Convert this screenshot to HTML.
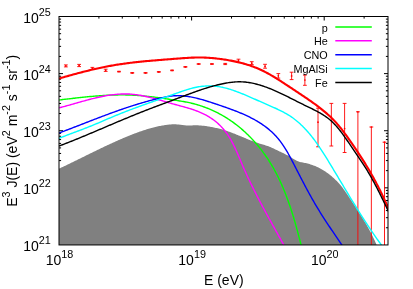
<!DOCTYPE html>
<html><head><meta charset="utf-8"><title>plot</title>
<style>
html,body{margin:0;padding:0;background:#fff;overflow:hidden}
body{width:413px;height:289px;position:relative;font-family:"Liberation Sans",sans-serif}
svg text{font-family:"Liberation Sans",sans-serif;fill:#000}
</style></head><body>
<svg width="413" height="289" viewBox="0 0 413 289" style="position:absolute;left:0;top:0;display:block;will-change:transform">
<rect x="0" y="0" width="413" height="289" fill="#fff"/>
<defs><clipPath id="c"><rect x="59.0" y="16.5" width="329.0" height="228.45"/></clipPath></defs>
<path d="M98.92,244.95 v-2.1 M98.92,16.5 v2.1 M122.27,244.95 v-2.1 M122.27,16.5 v2.1 M138.83,244.95 v-2.1 M138.83,16.5 v2.1 M151.68,244.95 v-2.1 M151.68,16.5 v2.1 M162.18,244.95 v-2.1 M162.18,16.5 v2.1 M171.06,244.95 v-2.1 M171.06,16.5 v2.1 M178.75,244.95 v-2.1 M178.75,16.5 v2.1 M185.53,244.95 v-2.1 M185.53,16.5 v2.1 M191.60,244.95 v-4.0 M191.60,16.5 v4.0 M231.52,244.95 v-2.1 M231.52,16.5 v2.1 M254.87,244.95 v-2.1 M254.87,16.5 v2.1 M271.43,244.95 v-2.1 M271.43,16.5 v2.1 M284.28,244.95 v-2.1 M284.28,16.5 v2.1 M294.78,244.95 v-2.1 M294.78,16.5 v2.1 M303.66,244.95 v-2.1 M303.66,16.5 v2.1 M311.35,244.95 v-2.1 M311.35,16.5 v2.1 M318.13,244.95 v-2.1 M318.13,16.5 v2.1 M324.20,244.95 v-4.0 M324.20,16.5 v4.0 M364.12,244.95 v-2.1 M364.12,16.5 v2.1 M59.0,227.76 h2.1 M388.0,227.76 h-2.1 M59.0,217.70 h2.1 M388.0,217.70 h-2.1 M59.0,210.56 h2.1 M388.0,210.56 h-2.1 M59.0,205.03 h2.1 M388.0,205.03 h-2.1 M59.0,200.51 h2.1 M388.0,200.51 h-2.1 M59.0,196.68 h2.1 M388.0,196.68 h-2.1 M59.0,193.37 h2.1 M388.0,193.37 h-2.1 M59.0,190.45 h2.1 M388.0,190.45 h-2.1 M59.0,187.84 h4.0 M388.0,187.84 h-4.0 M59.0,170.64 h2.1 M388.0,170.64 h-2.1 M59.0,160.59 h2.1 M388.0,160.59 h-2.1 M59.0,153.45 h2.1 M388.0,153.45 h-2.1 M59.0,147.92 h2.1 M388.0,147.92 h-2.1 M59.0,143.40 h2.1 M388.0,143.40 h-2.1 M59.0,139.57 h2.1 M388.0,139.57 h-2.1 M59.0,136.26 h2.1 M388.0,136.26 h-2.1 M59.0,133.34 h2.1 M388.0,133.34 h-2.1 M59.0,130.72 h4.0 M388.0,130.72 h-4.0 M59.0,113.53 h2.1 M388.0,113.53 h-2.1 M59.0,103.48 h2.1 M388.0,103.48 h-2.1 M59.0,96.34 h2.1 M388.0,96.34 h-2.1 M59.0,90.81 h2.1 M388.0,90.81 h-2.1 M59.0,86.28 h2.1 M388.0,86.28 h-2.1 M59.0,82.46 h2.1 M388.0,82.46 h-2.1 M59.0,79.15 h2.1 M388.0,79.15 h-2.1 M59.0,76.23 h2.1 M388.0,76.23 h-2.1 M59.0,73.61 h4.0 M388.0,73.61 h-4.0 M59.0,56.42 h2.1 M388.0,56.42 h-2.1 M59.0,46.36 h2.1 M388.0,46.36 h-2.1 M59.0,39.23 h2.1 M388.0,39.23 h-2.1 M59.0,33.69 h2.1 M388.0,33.69 h-2.1 M59.0,29.17 h2.1 M388.0,29.17 h-2.1 M59.0,25.35 h2.1 M388.0,25.35 h-2.1 M59.0,22.03 h2.1 M388.0,22.03 h-2.1 M59.0,19.11 h2.1 M388.0,19.11 h-2.1" stroke="#000" stroke-width="1" fill="none"/>
<g clip-path="url(#c)">
<path d="M59.17,168.61 L60.07,168.19 L60.96,167.77 L61.86,167.34 L62.75,166.92 L63.65,166.49 L64.54,166.06 L65.44,165.63 L66.33,165.20 L67.23,164.77 L68.12,164.34 L69.01,163.90 L69.91,163.47 L70.80,163.03 L71.70,162.60 L72.59,162.16 L73.49,161.72 L74.38,161.29 L75.28,160.85 L76.17,160.41 L77.07,159.97 L77.96,159.53 L78.86,159.09 L79.75,158.64 L80.65,158.20 L81.55,157.76 L82.44,157.32 L83.34,156.88 L84.24,156.44 L85.13,155.99 L86.03,155.55 L86.93,155.11 L87.83,154.67 L88.73,154.23 L89.63,153.78 L90.53,153.34 L91.42,152.90 L92.32,152.46 L93.23,152.02 L94.13,151.58 L95.03,151.14 L95.93,150.71 L96.83,150.27 L97.74,149.83 L98.64,149.40 L99.54,148.96 L100.45,148.53 L101.35,148.09 L102.26,147.66 L103.17,147.23 L104.07,146.80 L104.98,146.37 L105.89,145.94 L106.80,145.52 L107.71,145.09 L108.62,144.67 L109.53,144.24 L110.44,143.82 L111.35,143.40 L112.26,142.99 L113.18,142.57 L114.09,142.16 L115.01,141.74 L115.93,141.33 L116.84,140.92 L117.76,140.52 L118.68,140.11 L119.60,139.71 L120.52,139.31 L121.44,138.91 L122.36,138.51 L123.29,138.12 L124.21,137.72 L125.14,137.33 L126.06,136.95 L126.99,136.56 L127.92,136.18 L128.85,135.80 L129.78,135.42 L130.71,135.05 L131.64,134.68 L132.58,134.32 L133.51,133.95 L134.45,133.60 L135.38,133.24 L136.32,132.89 L137.26,132.54 L138.20,132.20 L139.14,131.87 L140.09,131.53 L141.03,131.21 L141.98,130.88 L142.92,130.57 L143.87,130.26 L144.82,129.95 L145.77,129.65 L146.72,129.35 L147.68,129.07 L148.63,128.78 L149.59,128.51 L150.54,128.24 L151.50,127.97 L152.46,127.72 L153.42,127.47 L154.39,127.22 L155.35,126.99 L156.32,126.76 L157.28,126.54 L158.25,126.33 L159.22,126.12 L160.20,125.93 L161.17,125.74 L162.14,125.56 L163.12,125.38 L164.10,125.22 L165.08,125.07 L166.06,124.92 L167.04,124.79 L168.03,124.67 L169.02,124.57 L170.00,124.48 L170.99,124.41 L171.99,124.36 L172.98,124.33 L173.97,124.32 L174.97,124.33 L175.97,124.36 L176.97,124.42 L177.97,124.49 L178.97,124.58 L179.98,124.70 L180.98,124.82 L181.99,124.95 L182.99,125.08 L184.00,125.20 L185.01,125.31 L186.01,125.39 L187.02,125.45 L188.03,125.48 L189.04,125.47 L190.05,125.45 L191.06,125.42 L192.06,125.38 L193.07,125.35 L194.08,125.32 L195.08,125.31 L196.09,125.31 L197.09,125.33 L198.09,125.36 L199.10,125.41 L200.10,125.47 L201.10,125.55 L202.09,125.64 L203.09,125.74 L204.08,125.85 L205.07,125.97 L206.06,126.10 L207.05,126.24 L208.04,126.39 L209.02,126.55 L210.00,126.71 L210.98,126.89 L211.96,127.07 L212.93,127.26 L213.90,127.46 L214.87,127.67 L215.84,127.88 L216.80,128.11 L217.77,128.34 L218.73,128.58 L219.69,128.82 L220.65,129.08 L221.60,129.34 L222.56,129.62 L223.51,129.90 L224.46,130.18 L225.41,130.48 L226.36,130.78 L227.31,131.10 L228.25,131.42 L229.20,131.75 L230.14,132.08 L231.08,132.43 L232.02,132.78 L232.96,133.14 L233.90,133.50 L234.84,133.87 L235.78,134.25 L236.72,134.63 L237.65,135.01 L238.59,135.39 L239.52,135.78 L240.46,136.17 L241.39,136.56 L242.32,136.95 L243.26,137.34 L244.19,137.73 L245.12,138.12 L246.05,138.51 L246.99,138.89 L247.92,139.28 L248.85,139.66 L249.78,140.03 L250.72,140.40 L251.65,140.76 L252.58,141.12 L253.51,141.47 L254.45,141.82 L255.38,142.15 L256.32,142.48 L257.25,142.80 L258.19,143.11 L259.12,143.41 L260.06,143.70 L261.00,143.98 L261.94,144.27 L262.87,144.55 L263.81,144.83 L264.75,145.11 L265.69,145.41 L266.62,145.71 L267.56,146.03 L268.49,146.37 L269.42,146.72 L270.36,147.10 L271.28,147.49 L272.21,147.90 L273.14,148.33 L274.06,148.77 L274.98,149.21 L275.90,149.66 L276.81,150.10 L277.73,150.54 L278.64,150.97 L279.54,151.40 L280.44,151.83 L281.34,152.25 L282.23,152.68 L283.12,153.10 L284.01,153.54 L284.89,153.98 L285.77,154.43 L286.64,154.89 L287.51,155.36 L288.38,155.83 L289.25,156.33 L290.12,156.83 L290.99,157.35 L291.86,157.88 L292.74,158.42 L293.62,158.96 L294.50,159.49 L295.39,160.01 L296.29,160.49 L297.20,160.93 L298.11,161.31 L299.04,161.64 L299.97,161.92 L300.91,162.16 L301.86,162.37 L302.81,162.56 L303.77,162.74 L304.73,162.92 L305.69,163.12 L306.65,163.33 L307.62,163.57 L308.58,163.83 L309.55,164.11 L310.51,164.40 L311.46,164.72 L312.42,165.04 L313.36,165.38 L314.30,165.73 L315.24,166.09 L316.16,166.47 L317.08,166.88 L317.99,167.30 L318.88,167.73 L319.77,168.19 L320.65,168.66 L321.53,169.15 L322.39,169.65 L323.25,170.17 L324.09,170.70 L324.93,171.25 L325.77,171.81 L326.59,172.38 L327.41,172.97 L328.22,173.57 L329.02,174.17 L329.82,174.79 L330.61,175.43 L331.38,176.07 L332.15,176.72 L332.91,177.39 L333.67,178.06 L334.41,178.74 L335.14,179.43 L335.86,180.14 L336.57,180.85 L337.27,181.57 L337.95,182.29 L338.63,183.03 L339.29,183.77 L339.95,184.52 L340.59,185.28 L341.21,186.05 L341.83,186.82 L342.43,187.60 L343.03,188.38 L343.61,189.17 L344.19,189.97 L344.76,190.77 L345.33,191.58 L345.89,192.39 L346.45,193.20 L347.00,194.02 L347.56,194.85 L348.11,195.67 L348.67,196.50 L349.22,197.34 L349.78,198.17 L350.33,199.01 L350.89,199.85 L351.44,200.69 L352.00,201.54 L352.55,202.38 L353.11,203.23 L353.66,204.08 L354.21,204.92 L354.76,205.77 L355.31,206.62 L355.86,207.47 L356.41,208.32 L356.95,209.16 L357.49,210.01 L358.03,210.85 L358.57,211.70 L359.11,212.55 L359.64,213.39 L360.18,214.24 L360.70,215.08 L361.23,215.93 L361.75,216.78 L362.28,217.63 L362.79,218.48 L363.31,219.33 L363.82,220.18 L364.33,221.03 L364.84,221.88 L365.34,222.74 L365.84,223.60 L366.34,224.46 L366.83,225.32 L367.32,226.18 L367.81,227.04 L368.29,227.91 L368.77,228.78 L369.24,229.65 L369.71,230.53 L370.18,231.41 L370.64,232.29 L371.10,233.17 L371.55,234.06 L372.00,234.95 L372.44,235.84 L372.88,236.74 L373.32,237.64 L373.75,238.54 L374.17,239.45 L374.59,240.36 L375.01,241.28 L375.42,242.20 L375.82,243.12 L376.22,244.05 L376.61,244.99 L377.00,245.92 L377.38,246.87 L377.54,247.26 L377.54,245.95 L58.0,245.95 L58.0,168.61 Z" fill="#808080" stroke="none"/>
</g>
<g clip-path="url(#c)" fill="none" stroke-linejoin="round" stroke-linecap="butt">
<path d="M65.85,64.90 V66.90 M63.95,64.90 h3.8 M63.95,66.90 h3.8 M79.13,64.40 V66.60 M77.23,64.40 h3.8 M77.23,66.60 h3.8 M92.41,67.40 V69.50 M90.51,67.40 h3.8 M90.51,69.50 h3.8 M105.69,69.20 V71.40 M103.79,69.20 h3.8 M103.79,71.40 h3.8 M118.97,71.30 V71.90 M117.07,71.30 h3.8 M117.07,71.90 h3.8 M132.25,72.60 V73.20 M130.35,72.60 h3.8 M130.35,73.20 h3.8 M145.53,72.60 V73.20 M143.63,72.60 h3.8 M143.63,73.20 h3.8 M158.81,71.60 V72.20 M156.91,71.60 h3.8 M156.91,72.20 h3.8 M172.09,70.10 V70.70 M170.19,70.10 h3.8 M170.19,70.70 h3.8 M185.37,66.60 V67.20 M183.47,66.60 h3.8 M183.47,67.20 h3.8 M198.65,63.70 V64.30 M196.75,63.70 h3.8 M196.75,64.30 h3.8 M211.93,63.70 V64.30 M210.03,63.70 h3.8 M210.03,64.30 h3.8 M225.21,63.40 V64.60 M223.31,63.40 h3.8 M223.31,64.60 h3.8 M238.49,59.20 V62.20 M236.59,59.20 h3.8 M236.59,62.20 h3.8 M251.77,61.70 V64.60 M249.87,61.70 h3.8 M249.87,64.60 h3.8 M265.05,64.30 V68.20 M263.15,64.30 h3.8 M263.15,68.20 h3.8 M278.33,73.60 V78.10 M276.43,73.60 h3.8 M276.43,78.10 h3.8 M291.61,72.20 V79.60 M289.71,72.20 h3.8 M289.71,79.60 h3.8 M304.89,75.10 V85.30 M302.99,75.10 h3.8 M302.99,85.30 h3.8 M318.00,108.20 V146.80 M316.10,108.20 h3.8 M316.10,146.80 h3.8 M331.35,103.40 V146.00 M329.45,103.40 h3.8 M329.45,146.00 h3.8 M344.60,103.40 V152.50 M342.70,103.40 h3.8 M342.70,152.50 h3.8 M357.90,111.80 V246.95 M356.00,111.80 h3.8 M371.35,127.00 V246.95 M369.45,127.00 h3.8 M384.50,142.20 V246.95 M382.60,142.20 h3.8" stroke="#ff0000" stroke-width="0.9"/>
<circle cx="65.85" cy="65.90" r="0.85" fill="#ff0000" stroke="none"/>
<circle cx="79.13" cy="65.50" r="0.85" fill="#ff0000" stroke="none"/>
<circle cx="92.41" cy="68.40" r="0.85" fill="#ff0000" stroke="none"/>
<circle cx="105.69" cy="70.30" r="0.85" fill="#ff0000" stroke="none"/>
<circle cx="118.97" cy="71.60" r="0.85" fill="#ff0000" stroke="none"/>
<circle cx="132.25" cy="72.90" r="0.85" fill="#ff0000" stroke="none"/>
<circle cx="145.53" cy="72.90" r="0.85" fill="#ff0000" stroke="none"/>
<circle cx="158.81" cy="71.90" r="0.85" fill="#ff0000" stroke="none"/>
<circle cx="172.09" cy="70.40" r="0.85" fill="#ff0000" stroke="none"/>
<circle cx="185.37" cy="66.90" r="0.85" fill="#ff0000" stroke="none"/>
<circle cx="198.65" cy="64.00" r="0.85" fill="#ff0000" stroke="none"/>
<circle cx="211.93" cy="64.00" r="0.85" fill="#ff0000" stroke="none"/>
<circle cx="225.21" cy="64.00" r="0.85" fill="#ff0000" stroke="none"/>
<circle cx="238.49" cy="60.70" r="0.85" fill="#ff0000" stroke="none"/>
<circle cx="251.77" cy="63.20" r="0.85" fill="#ff0000" stroke="none"/>
<circle cx="265.05" cy="66.30" r="0.85" fill="#ff0000" stroke="none"/>
<circle cx="278.33" cy="75.80" r="0.85" fill="#ff0000" stroke="none"/>
<circle cx="291.61" cy="75.90" r="0.85" fill="#ff0000" stroke="none"/>
<circle cx="304.89" cy="80.00" r="0.85" fill="#ff0000" stroke="none"/>
<circle cx="318.00" cy="122.20" r="0.85" fill="#ff0000" stroke="none"/>
<circle cx="331.35" cy="117.00" r="0.85" fill="#ff0000" stroke="none"/>
<circle cx="344.60" cy="128.50" r="0.85" fill="#ff0000" stroke="none"/>
<circle cx="357.90" cy="111.80" r="0.85" fill="#ff0000" stroke="none"/>
<circle cx="371.35" cy="127.00" r="0.85" fill="#ff0000" stroke="none"/>
<circle cx="384.50" cy="142.20" r="0.85" fill="#ff0000" stroke="none"/>
<path d="M59.12,78.52 L60.26,78.19 L61.41,77.85 L62.56,77.52 L63.71,77.19 L64.86,76.86 L66.01,76.53 L67.16,76.20 L68.31,75.87 L69.47,75.55 L70.62,75.22 L71.78,74.90 L72.93,74.59 L74.09,74.27 L75.25,73.95 L76.41,73.64 L77.57,73.33 L78.73,73.02 L79.89,72.72 L81.05,72.41 L82.22,72.11 L83.38,71.82 L84.55,71.52 L85.71,71.23 L86.88,70.94 L88.04,70.65 L89.21,70.37 L90.38,70.09 L91.55,69.81 L92.72,69.54 L93.89,69.26 L95.06,69.00 L96.24,68.73 L97.41,68.47 L98.58,68.21 L99.76,67.96 L100.93,67.71 L102.11,67.46 L103.29,67.22 L104.46,66.98 L105.64,66.75 L106.82,66.52 L108.00,66.29 L109.18,66.07 L110.36,65.85 L111.54,65.64 L112.72,65.43 L113.90,65.23 L115.09,65.03 L116.27,64.83 L117.45,64.64 L118.64,64.46 L119.82,64.28 L121.01,64.10 L122.19,63.92 L123.38,63.76 L124.57,63.59 L125.75,63.43 L126.94,63.27 L128.13,63.12 L129.32,62.97 L130.51,62.82 L131.70,62.68 L132.89,62.53 L134.08,62.40 L135.27,62.26 L136.46,62.13 L137.65,62.00 L138.84,61.88 L140.04,61.75 L141.23,61.63 L142.42,61.51 L143.61,61.40 L144.81,61.28 L146.00,61.17 L147.20,61.06 L148.39,60.95 L149.58,60.84 L150.78,60.74 L151.98,60.63 L153.17,60.53 L154.37,60.43 L155.56,60.33 L156.76,60.23 L157.96,60.14 L159.15,60.04 L160.35,59.94 L161.55,59.85 L162.74,59.75 L163.94,59.66 L165.14,59.57 L166.34,59.47 L167.53,59.38 L168.73,59.29 L169.93,59.20 L171.13,59.10 L172.33,59.01 L173.53,58.92 L174.72,58.82 L175.92,58.73 L177.12,58.63 L178.32,58.54 L179.52,58.44 L180.72,58.35 L181.92,58.26 L183.12,58.17 L184.31,58.09 L185.51,58.01 L186.71,57.93 L187.91,57.86 L189.11,57.79 L190.31,57.73 L191.51,57.67 L192.70,57.62 L193.90,57.58 L195.10,57.55 L196.30,57.52 L197.50,57.51 L198.69,57.50 L199.89,57.50 L201.09,57.51 L202.28,57.54 L203.48,57.57 L204.68,57.61 L205.87,57.66 L207.07,57.72 L208.26,57.80 L209.46,57.87 L210.65,57.96 L211.85,58.06 L213.04,58.16 L214.24,58.28 L215.43,58.40 L216.62,58.53 L217.82,58.67 L219.01,58.81 L220.20,58.96 L221.39,59.12 L222.58,59.29 L223.77,59.46 L224.96,59.64 L226.15,59.83 L227.34,60.02 L228.52,60.22 L229.71,60.43 L230.89,60.65 L232.08,60.87 L233.26,61.11 L234.44,61.35 L235.61,61.60 L236.79,61.86 L237.96,62.13 L239.13,62.41 L240.29,62.70 L241.46,62.99 L242.62,63.30 L243.78,63.62 L244.93,63.95 L246.08,64.28 L247.23,64.63 L248.37,64.99 L249.51,65.37 L250.64,65.75 L251.77,66.14 L252.90,66.55 L254.02,66.97 L255.13,67.40 L256.24,67.84 L257.35,68.30 L258.45,68.77 L259.54,69.25 L260.63,69.74 L261.71,70.25 L262.79,70.77 L263.86,71.30 L264.93,71.84 L265.99,72.39 L267.05,72.95 L268.11,73.53 L269.16,74.11 L270.20,74.70 L271.24,75.29 L272.28,75.90 L273.32,76.51 L274.35,77.13 L275.38,77.76 L276.40,78.39 L277.42,79.03 L278.44,79.67 L279.46,80.32 L280.47,80.97 L281.49,81.62 L282.50,82.28 L283.51,82.94 L284.51,83.60 L285.52,84.26 L286.52,84.92 L287.53,85.59 L288.53,86.25 L289.53,86.92 L290.53,87.58 L291.53,88.24 L292.53,88.91 L293.53,89.57 L294.53,90.23 L295.53,90.89 L296.52,91.55 L297.52,92.21 L298.52,92.87 L299.52,93.54 L300.51,94.20 L301.51,94.87 L302.51,95.54 L303.50,96.20 L304.50,96.88 L305.50,97.55 L306.49,98.23 L307.49,98.90 L308.48,99.59 L309.47,100.27 L310.46,100.96 L311.45,101.65 L312.43,102.35 L313.42,103.04 L314.39,103.75 L315.37,104.46 L316.34,105.17 L317.30,105.89 L318.26,106.61 L319.21,107.34 L320.16,108.07 L321.10,108.81 L322.03,109.56 L322.96,110.31 L323.88,111.07 L324.80,111.84 L325.70,112.61 L326.60,113.39 L327.50,114.18 L328.38,114.98 L329.26,115.78 L330.13,116.59 L330.99,117.41 L331.84,118.24 L332.68,119.08 L333.52,119.93 L334.34,120.79 L335.16,121.65 L335.97,122.53 L336.77,123.42 L337.55,124.32 L338.33,125.22 L339.10,126.14 L339.87,127.07 L340.62,128.00 L341.37,128.94 L342.11,129.89 L342.84,130.85 L343.57,131.81 L344.29,132.78 L345.00,133.75 L345.72,134.72 L346.43,135.70 L347.13,136.68 L347.83,137.67 L348.53,138.65 L349.23,139.64 L349.93,140.62 L350.62,141.61 L351.31,142.60 L352.00,143.59 L352.69,144.58 L353.37,145.57 L354.05,146.57 L354.73,147.56 L355.41,148.56 L356.08,149.55 L356.75,150.55 L357.42,151.55 L358.08,152.55 L358.75,153.56 L359.40,154.56 L360.06,155.57 L360.71,156.57 L361.36,157.58 L362.01,158.59 L362.65,159.60 L363.29,160.62 L363.93,161.63 L364.56,162.65 L365.19,163.67 L365.82,164.69 L366.44,165.71 L367.06,166.73 L367.67,167.76 L368.28,168.79 L368.89,169.81 L369.49,170.84 L370.09,171.88 L370.69,172.91 L371.28,173.95 L371.87,174.99 L372.45,176.03 L373.03,177.07 L373.61,178.12 L374.18,179.16 L374.75,180.21 L375.32,181.26 L375.88,182.32 L376.44,183.37 L376.99,184.43 L377.55,185.49 L378.09,186.55 L378.64,187.61 L379.18,188.68 L379.72,189.75 L380.25,190.82 L380.78,191.90 L381.31,192.97 L381.84,194.05 L382.36,195.13 L382.88,196.21 L383.39,197.30 L383.90,198.39 L384.41,199.48 L384.92,200.58 L385.42,201.67 L385.92,202.77 L386.42,203.87 L386.91,204.98 L387.40,206.08 L387.89,207.19 L388.37,208.31 L388.86,209.42 L389.34,210.54 L389.44,210.78" stroke="#ff0000" stroke-width="2.1"/>
<path d="M59.17,99.97 L60.35,99.83 L61.53,99.70 L62.71,99.56 L63.90,99.42 L65.08,99.28 L66.26,99.14 L67.45,99.01 L68.63,98.87 L69.82,98.73 L71.01,98.59 L72.19,98.46 L73.38,98.32 L74.57,98.19 L75.76,98.05 L76.94,97.92 L78.13,97.79 L79.32,97.66 L80.51,97.53 L81.71,97.40 L82.90,97.27 L84.09,97.15 L85.28,97.03 L86.47,96.91 L87.67,96.79 L88.86,96.67 L90.05,96.56 L91.25,96.45 L92.44,96.34 L93.64,96.24 L94.83,96.13 L96.03,96.04 L97.22,95.94 L98.42,95.85 L99.62,95.76 L100.81,95.67 L102.01,95.59 L103.21,95.51 L104.41,95.44 L105.60,95.37 L106.80,95.31 L108.00,95.25 L109.20,95.19 L110.40,95.14 L111.60,95.09 L112.79,95.05 L113.99,95.01 L115.19,94.98 L116.39,94.95 L117.59,94.93 L118.79,94.92 L119.99,94.91 L121.19,94.90 L122.39,94.90 L123.59,94.91 L124.79,94.92 L125.99,94.94 L127.19,94.97 L128.39,95.00 L129.59,95.04 L130.79,95.09 L131.99,95.14 L133.19,95.20 L134.39,95.27 L135.59,95.34 L136.79,95.41 L137.99,95.49 L139.19,95.58 L140.39,95.67 L141.59,95.77 L142.79,95.88 L143.99,95.99 L145.19,96.10 L146.39,96.22 L147.59,96.34 L148.79,96.47 L149.99,96.60 L151.18,96.74 L152.38,96.88 L153.58,97.03 L154.78,97.18 L155.98,97.33 L157.17,97.49 L158.37,97.65 L159.57,97.81 L160.76,97.98 L161.96,98.15 L163.16,98.33 L164.35,98.51 L165.55,98.69 L166.74,98.87 L167.94,99.06 L169.13,99.25 L170.32,99.44 L171.52,99.63 L172.71,99.82 L173.90,100.01 L175.09,100.20 L176.28,100.38 L177.46,100.57 L178.65,100.76 L179.83,100.95 L181.01,101.14 L182.19,101.33 L183.37,101.54 L184.55,101.74 L185.72,101.96 L186.90,102.18 L188.07,102.42 L189.23,102.67 L190.40,102.93 L191.56,103.20 L192.72,103.48 L193.87,103.78 L195.03,104.09 L196.18,104.41 L197.32,104.75 L198.47,105.09 L199.60,105.45 L200.74,105.82 L201.87,106.20 L203.00,106.59 L204.12,107.00 L205.24,107.41 L206.36,107.83 L207.47,108.27 L208.58,108.71 L209.68,109.17 L210.78,109.63 L211.87,110.11 L212.95,110.60 L214.04,111.10 L215.11,111.61 L216.19,112.13 L217.25,112.66 L218.31,113.21 L219.37,113.76 L220.42,114.33 L221.46,114.91 L222.50,115.49 L223.53,116.09 L224.56,116.70 L225.58,117.32 L226.59,117.95 L227.60,118.59 L228.60,119.24 L229.60,119.90 L230.59,120.57 L231.57,121.25 L232.55,121.94 L233.52,122.64 L234.48,123.35 L235.44,124.07 L236.39,124.80 L237.33,125.54 L238.27,126.28 L239.21,127.04 L240.13,127.80 L241.05,128.57 L241.96,129.36 L242.87,130.15 L243.76,130.94 L244.66,131.75 L245.54,132.57 L246.42,133.39 L247.29,134.22 L248.15,135.06 L249.01,135.90 L249.86,136.76 L250.70,137.62 L251.53,138.49 L252.36,139.36 L253.18,140.25 L253.99,141.14 L254.80,142.03 L255.60,142.94 L256.39,143.85 L257.17,144.76 L257.95,145.69 L258.71,146.62 L259.47,147.55 L260.23,148.50 L260.97,149.44 L261.71,150.40 L262.44,151.36 L263.16,152.32 L263.87,153.30 L264.58,154.27 L265.27,155.25 L265.96,156.24 L266.64,157.23 L267.32,158.23 L267.98,159.23 L268.64,160.24 L269.29,161.25 L269.93,162.27 L270.56,163.29 L271.18,164.31 L271.80,165.34 L272.40,166.38 L273.01,167.41 L273.60,168.45 L274.18,169.50 L274.76,170.55 L275.33,171.60 L275.89,172.66 L276.45,173.72 L277.00,174.79 L277.54,175.86 L278.07,176.93 L278.60,178.01 L279.12,179.09 L279.64,180.17 L280.15,181.25 L280.65,182.34 L281.14,183.44 L281.63,184.53 L282.12,185.63 L282.59,186.73 L283.07,187.83 L283.53,188.94 L283.99,190.05 L284.44,191.16 L284.89,192.28 L285.33,193.39 L285.77,194.51 L286.20,195.64 L286.63,196.76 L287.05,197.89 L287.47,199.01 L287.88,200.14 L288.29,201.28 L288.69,202.41 L289.09,203.55 L289.48,204.68 L289.87,205.82 L290.25,206.96 L290.63,208.10 L291.01,209.25 L291.38,210.39 L291.75,211.54 L292.11,212.69 L292.47,213.84 L292.83,214.99 L293.18,216.14 L293.53,217.29 L293.87,218.44 L294.22,219.59 L294.55,220.75 L294.89,221.90 L295.22,223.06 L295.55,224.21 L295.88,225.37 L296.20,226.52 L296.52,227.68 L296.84,228.84 L297.16,229.99 L297.47,231.15 L297.78,232.31 L298.09,233.46 L298.40,234.62 L298.70,235.78 L299.01,236.93 L299.31,238.09 L299.61,239.24 L299.91,240.40 L300.20,241.55 L300.50,242.71 L300.79,243.86 L301.08,245.01 L301.37,246.16 L301.63,247.18" stroke="#00ff00" stroke-width="1.4"/>
<path d="M59.18,107.79 L60.31,107.51 L61.44,107.22 L62.58,106.92 L63.71,106.62 L64.85,106.32 L65.99,106.01 L67.13,105.69 L68.27,105.38 L69.42,105.06 L70.57,104.73 L71.72,104.41 L72.87,104.08 L74.02,103.76 L75.18,103.43 L76.33,103.10 L77.49,102.77 L78.65,102.44 L79.82,102.11 L80.98,101.78 L82.14,101.45 L83.31,101.13 L84.48,100.80 L85.65,100.48 L86.82,100.17 L87.99,99.85 L89.16,99.54 L90.34,99.23 L91.51,98.93 L92.69,98.64 L93.87,98.34 L95.04,98.06 L96.22,97.78 L97.40,97.51 L98.58,97.24 L99.77,96.98 L100.95,96.73 L102.13,96.49 L103.31,96.25 L104.50,96.03 L105.68,95.81 L106.87,95.60 L108.05,95.41 L109.24,95.22 L110.42,95.05 L111.61,94.88 L112.79,94.73 L113.98,94.59 L115.17,94.47 L116.35,94.35 L117.54,94.25 L118.73,94.17 L119.91,94.09 L121.10,94.04 L122.28,93.99 L123.47,93.97 L124.65,93.95 L125.84,93.96 L127.02,93.98 L128.20,94.02 L129.39,94.07 L130.57,94.15 L131.75,94.24 L132.93,94.34 L134.11,94.47 L135.29,94.61 L136.47,94.76 L137.65,94.93 L138.83,95.11 L140.01,95.30 L141.18,95.51 L142.36,95.73 L143.54,95.96 L144.71,96.21 L145.89,96.46 L147.06,96.72 L148.23,96.99 L149.41,97.27 L150.58,97.56 L151.75,97.86 L152.92,98.16 L154.10,98.47 L155.27,98.79 L156.44,99.11 L157.61,99.43 L158.77,99.76 L159.94,100.09 L161.11,100.43 L162.28,100.77 L163.45,101.11 L164.61,101.45 L165.78,101.79 L166.95,102.13 L168.11,102.48 L169.28,102.82 L170.44,103.15 L171.60,103.49 L172.77,103.82 L173.93,104.16 L175.09,104.48 L176.26,104.80 L177.42,105.12 L178.58,105.44 L179.74,105.75 L180.90,106.07 L182.05,106.38 L183.21,106.70 L184.36,107.02 L185.51,107.34 L186.66,107.66 L187.80,108.00 L188.94,108.34 L190.08,108.68 L191.22,109.04 L192.35,109.40 L193.48,109.77 L194.60,110.16 L195.72,110.56 L196.83,110.97 L197.94,111.40 L199.05,111.84 L200.14,112.30 L201.24,112.78 L202.32,113.27 L203.41,113.79 L204.48,114.32 L205.55,114.88 L206.61,115.46 L207.66,116.05 L208.70,116.67 L209.73,117.31 L210.75,117.97 L211.75,118.64 L212.75,119.34 L213.72,120.05 L214.69,120.78 L215.63,121.53 L216.56,122.30 L217.47,123.08 L218.36,123.88 L219.24,124.70 L220.09,125.53 L220.93,126.38 L221.75,127.25 L222.55,128.13 L223.34,129.02 L224.10,129.93 L224.85,130.85 L225.58,131.79 L226.29,132.74 L226.98,133.70 L227.65,134.68 L228.31,135.66 L228.95,136.66 L229.58,137.67 L230.19,138.69 L230.78,139.72 L231.37,140.76 L231.94,141.80 L232.50,142.86 L233.05,143.92 L233.59,144.99 L234.12,146.07 L234.64,147.15 L235.15,148.24 L235.65,149.34 L236.15,150.44 L236.64,151.54 L237.13,152.65 L237.61,153.76 L238.09,154.87 L238.56,155.98 L239.03,157.10 L239.51,158.22 L239.97,159.34 L240.44,160.45 L240.91,161.57 L241.38,162.69 L241.86,163.80 L242.33,164.92 L242.81,166.03 L243.29,167.14 L243.78,168.24 L244.26,169.35 L244.75,170.45 L245.25,171.55 L245.74,172.65 L246.24,173.75 L246.74,174.84 L247.24,175.93 L247.75,177.02 L248.26,178.11 L248.77,179.20 L249.28,180.28 L249.80,181.37 L250.32,182.45 L250.84,183.53 L251.36,184.61 L251.89,185.68 L252.42,186.76 L252.95,187.83 L253.48,188.90 L254.01,189.98 L254.55,191.04 L255.09,192.11 L255.63,193.18 L256.17,194.25 L256.72,195.31 L257.26,196.37 L257.81,197.44 L258.36,198.50 L258.91,199.56 L259.47,200.62 L260.02,201.68 L260.58,202.73 L261.14,203.79 L261.70,204.85 L262.26,205.90 L262.82,206.96 L263.38,208.01 L263.95,209.06 L264.52,210.12 L265.08,211.17 L265.65,212.22 L266.22,213.27 L266.80,214.32 L267.37,215.37 L267.94,216.42 L268.52,217.47 L269.09,218.52 L269.67,219.57 L270.25,220.62 L270.83,221.67 L271.41,222.71 L271.99,223.76 L272.57,224.81 L273.15,225.86 L273.73,226.91 L274.32,227.96 L274.90,229.01 L275.48,230.05 L276.07,231.10 L276.66,232.15 L277.24,233.20 L277.83,234.25 L278.41,235.30 L279.00,236.36 L279.59,237.41 L280.18,238.46 L280.76,239.51 L281.35,240.57 L281.94,241.62 L282.53,242.67 L283.11,243.73 L283.70,244.79 L284.29,245.84 L284.88,246.90 L285.05,247.20" stroke="#ff00ff" stroke-width="1.4"/>
<path d="M59.16,132.96 L60.27,132.55 L61.38,132.13 L62.49,131.71 L63.60,131.29 L64.71,130.87 L65.82,130.45 L66.94,130.02 L68.05,129.60 L69.16,129.17 L70.27,128.74 L71.39,128.31 L72.50,127.88 L73.62,127.45 L74.73,127.02 L75.85,126.59 L76.96,126.16 L78.08,125.73 L79.19,125.29 L80.31,124.86 L81.43,124.42 L82.54,123.99 L83.66,123.56 L84.78,123.12 L85.90,122.69 L87.02,122.25 L88.14,121.82 L89.26,121.38 L90.38,120.95 L91.50,120.52 L92.62,120.08 L93.75,119.65 L94.87,119.22 L95.99,118.79 L97.12,118.36 L98.24,117.93 L99.37,117.50 L100.49,117.07 L101.62,116.65 L102.75,116.22 L103.87,115.80 L105.00,115.38 L106.13,114.95 L107.26,114.54 L108.39,114.12 L109.52,113.70 L110.65,113.28 L111.79,112.87 L112.92,112.46 L114.05,112.05 L115.19,111.64 L116.32,111.24 L117.46,110.83 L118.59,110.43 L119.73,110.03 L120.87,109.64 L122.01,109.24 L123.15,108.85 L124.29,108.46 L125.43,108.07 L126.57,107.69 L127.71,107.31 L128.85,106.93 L130.00,106.56 L131.14,106.18 L132.29,105.81 L133.43,105.45 L134.58,105.09 L135.73,104.73 L136.88,104.37 L138.03,104.02 L139.18,103.67 L140.33,103.32 L141.48,102.98 L142.64,102.65 L143.79,102.31 L144.95,101.98 L146.10,101.66 L147.26,101.33 L148.42,101.02 L149.58,100.70 L150.74,100.39 L151.90,100.09 L153.06,99.79 L154.22,99.49 L155.39,99.20 L156.55,98.92 L157.72,98.63 L158.88,98.36 L160.05,98.09 L161.22,97.82 L162.39,97.56 L163.56,97.32 L164.73,97.08 L165.90,96.86 L167.08,96.65 L168.25,96.46 L169.43,96.28 L170.60,96.13 L171.78,95.99 L172.95,95.88 L174.13,95.79 L175.30,95.72 L176.48,95.68 L177.66,95.67 L178.83,95.68 L180.01,95.71 L181.19,95.77 L182.37,95.85 L183.54,95.94 L184.72,96.06 L185.90,96.20 L187.07,96.36 L188.25,96.53 L189.43,96.72 L190.60,96.92 L191.78,97.15 L192.95,97.38 L194.13,97.63 L195.30,97.89 L196.47,98.17 L197.65,98.45 L198.82,98.75 L199.99,99.06 L201.16,99.37 L202.33,99.70 L203.50,100.04 L204.66,100.38 L205.83,100.73 L207.00,101.09 L208.16,101.46 L209.32,101.83 L210.48,102.20 L211.64,102.58 L212.80,102.97 L213.96,103.35 L215.12,103.74 L216.27,104.13 L217.42,104.52 L218.58,104.92 L219.72,105.31 L220.87,105.70 L222.02,106.09 L223.16,106.49 L224.31,106.89 L225.45,107.28 L226.58,107.68 L227.72,108.09 L228.85,108.49 L229.99,108.90 L231.12,109.31 L232.24,109.73 L233.37,110.15 L234.49,110.58 L235.61,111.01 L236.73,111.44 L237.84,111.88 L238.95,112.33 L240.06,112.79 L241.17,113.25 L242.27,113.72 L243.36,114.19 L244.45,114.68 L245.54,115.17 L246.62,115.67 L247.70,116.18 L248.77,116.69 L249.84,117.22 L250.90,117.76 L251.96,118.30 L253.01,118.86 L254.06,119.42 L255.09,120.00 L256.13,120.59 L257.15,121.19 L258.17,121.80 L259.18,122.43 L260.19,123.06 L261.18,123.71 L262.17,124.37 L263.16,125.05 L264.13,125.74 L265.10,126.44 L266.05,127.16 L267.00,127.89 L267.94,128.64 L268.87,129.40 L269.79,130.18 L270.70,130.97 L271.60,131.77 L272.48,132.59 L273.35,133.43 L274.21,134.28 L275.05,135.15 L275.88,136.03 L276.69,136.93 L277.48,137.84 L278.26,138.77 L279.03,139.71 L279.77,140.66 L280.51,141.63 L281.23,142.61 L281.93,143.59 L282.62,144.59 L283.30,145.59 L283.96,146.60 L284.61,147.61 L285.25,148.62 L285.88,149.64 L286.49,150.67 L287.10,151.69 L287.70,152.72 L288.29,153.76 L288.87,154.79 L289.44,155.83 L290.01,156.87 L290.58,157.91 L291.13,158.96 L291.69,160.01 L292.24,161.06 L292.78,162.11 L293.33,163.17 L293.87,164.23 L294.41,165.28 L294.96,166.35 L295.50,167.41 L296.04,168.47 L296.59,169.54 L297.13,170.60 L297.68,171.67 L298.23,172.74 L298.78,173.80 L299.33,174.87 L299.88,175.94 L300.43,177.01 L300.99,178.08 L301.54,179.15 L302.10,180.22 L302.66,181.29 L303.22,182.36 L303.78,183.43 L304.34,184.50 L304.91,185.57 L305.48,186.64 L306.04,187.71 L306.62,188.77 L307.19,189.84 L307.76,190.90 L308.34,191.97 L308.92,193.03 L309.50,194.09 L310.09,195.15 L310.67,196.20 L311.26,197.26 L311.85,198.31 L312.45,199.36 L313.05,200.41 L313.65,201.45 L314.25,202.49 L314.85,203.53 L315.46,204.57 L316.07,205.61 L316.69,206.64 L317.30,207.67 L317.92,208.69 L318.55,209.71 L319.17,210.73 L319.80,211.75 L320.43,212.76 L321.07,213.77 L321.70,214.78 L322.34,215.79 L322.99,216.79 L323.63,217.80 L324.28,218.80 L324.92,219.80 L325.58,220.80 L326.23,221.79 L326.88,222.79 L327.54,223.78 L328.20,224.78 L328.86,225.77 L329.52,226.76 L330.18,227.76 L330.85,228.75 L331.51,229.74 L332.18,230.73 L332.85,231.72 L333.52,232.71 L334.19,233.71 L334.86,234.70 L335.53,235.69 L336.21,236.68 L336.88,237.68 L337.56,238.68 L338.23,239.67 L338.91,240.67 L339.58,241.67 L340.26,242.67 L340.94,243.67 L341.61,244.68 L342.29,245.69 L342.97,246.70 L343.32,247.21" stroke="#0000ff" stroke-width="1.4"/>
<path d="M59.13,138.29 L60.24,137.83 L61.36,137.38 L62.48,136.94 L63.60,136.50 L64.71,136.06 L65.83,135.63 L66.95,135.20 L68.06,134.77 L69.18,134.35 L70.30,133.93 L71.41,133.50 L72.53,133.08 L73.64,132.66 L74.76,132.25 L75.87,131.83 L76.98,131.41 L78.10,130.99 L79.21,130.57 L80.33,130.15 L81.44,129.73 L82.55,129.31 L83.67,128.88 L84.78,128.45 L85.89,128.02 L87.01,127.59 L88.12,127.15 L89.23,126.71 L90.35,126.26 L91.46,125.81 L92.57,125.36 L93.68,124.90 L94.80,124.44 L95.91,123.97 L97.02,123.50 L98.14,123.03 L99.25,122.56 L100.36,122.08 L101.47,121.60 L102.59,121.12 L103.70,120.65 L104.81,120.17 L105.93,119.69 L107.04,119.21 L108.15,118.73 L109.27,118.25 L110.38,117.78 L111.49,117.31 L112.61,116.84 L113.72,116.37 L114.83,115.90 L115.95,115.44 L117.06,114.98 L118.18,114.53 L119.29,114.08 L120.41,113.63 L121.52,113.18 L122.64,112.74 L123.75,112.30 L124.87,111.86 L125.99,111.43 L127.10,111.00 L128.22,110.57 L129.34,110.14 L130.45,109.72 L131.57,109.30 L132.69,108.88 L133.81,108.46 L134.93,108.05 L136.04,107.63 L137.16,107.22 L138.28,106.81 L139.40,106.40 L140.52,105.99 L141.64,105.59 L142.77,105.19 L143.89,104.78 L145.01,104.38 L146.13,103.98 L147.26,103.58 L148.38,103.18 L149.50,102.78 L150.63,102.39 L151.75,101.99 L152.88,101.59 L154.00,101.20 L155.13,100.80 L156.26,100.40 L157.39,100.01 L158.51,99.61 L159.64,99.22 L160.77,98.82 L161.90,98.43 L163.03,98.03 L164.16,97.63 L165.30,97.24 L166.43,96.84 L167.56,96.44 L168.69,96.04 L169.83,95.64 L170.96,95.24 L172.10,94.83 L173.24,94.43 L174.37,94.03 L175.51,93.62 L176.65,93.21 L177.79,92.80 L178.93,92.40 L180.07,92.00 L181.21,91.60 L182.36,91.20 L183.51,90.81 L184.65,90.43 L185.80,90.06 L186.96,89.70 L188.11,89.34 L189.27,89.00 L190.43,88.67 L191.59,88.35 L192.75,88.05 L193.92,87.77 L195.09,87.50 L196.26,87.25 L197.44,87.02 L198.62,86.81 L199.80,86.62 L200.99,86.45 L202.18,86.30 L203.37,86.18 L204.57,86.08 L205.76,86.01 L206.96,85.95 L208.16,85.92 L209.36,85.91 L210.55,85.93 L211.75,85.96 L212.95,86.02 L214.14,86.10 L215.33,86.21 L216.52,86.33 L217.70,86.48 L218.88,86.65 L220.06,86.85 L221.23,87.07 L222.40,87.30 L223.56,87.56 L224.72,87.83 L225.87,88.12 L227.03,88.43 L228.17,88.76 L229.32,89.10 L230.46,89.45 L231.60,89.82 L232.73,90.19 L233.87,90.58 L235.00,90.98 L236.12,91.39 L237.25,91.80 L238.37,92.23 L239.49,92.66 L240.61,93.10 L241.73,93.55 L242.84,94.00 L243.96,94.46 L245.07,94.92 L246.18,95.39 L247.29,95.86 L248.39,96.34 L249.50,96.82 L250.61,97.30 L251.71,97.79 L252.82,98.28 L253.92,98.77 L255.03,99.26 L256.13,99.75 L257.24,100.24 L258.34,100.74 L259.45,101.23 L260.55,101.72 L261.66,102.21 L262.76,102.70 L263.87,103.18 L264.98,103.67 L266.09,104.15 L267.19,104.63 L268.30,105.11 L269.41,105.59 L270.52,106.07 L271.62,106.55 L272.73,107.03 L273.83,107.52 L274.92,108.01 L276.02,108.51 L277.10,109.01 L278.19,109.52 L279.27,110.03 L280.34,110.56 L281.41,111.09 L282.48,111.64 L283.53,112.19 L284.58,112.76 L285.62,113.33 L286.65,113.92 L287.67,114.53 L288.69,115.15 L289.69,115.78 L290.69,116.43 L291.67,117.10 L292.65,117.78 L293.61,118.48 L294.56,119.20 L295.50,119.93 L296.43,120.68 L297.36,121.45 L298.27,122.23 L299.17,123.02 L300.05,123.83 L300.93,124.65 L301.80,125.48 L302.66,126.33 L303.50,127.18 L304.34,128.04 L305.16,128.91 L305.98,129.79 L306.79,130.67 L307.58,131.57 L308.37,132.47 L309.15,133.38 L309.92,134.30 L310.68,135.22 L311.43,136.15 L312.17,137.09 L312.91,138.03 L313.64,138.99 L314.36,139.94 L315.08,140.90 L315.79,141.87 L316.49,142.85 L317.18,143.82 L317.87,144.81 L318.56,145.79 L319.23,146.79 L319.91,147.78 L320.58,148.78 L321.24,149.78 L321.90,150.79 L322.55,151.80 L323.20,152.81 L323.85,153.83 L324.49,154.85 L325.14,155.87 L325.77,156.89 L326.41,157.92 L327.04,158.94 L327.67,159.97 L328.30,161.00 L328.93,162.03 L329.55,163.06 L330.17,164.09 L330.80,165.12 L331.42,166.15 L332.04,167.18 L332.66,168.21 L333.28,169.24 L333.90,170.27 L334.52,171.31 L335.14,172.34 L335.75,173.37 L336.37,174.40 L336.99,175.43 L337.61,176.46 L338.22,177.49 L338.84,178.52 L339.45,179.55 L340.07,180.58 L340.68,181.61 L341.30,182.64 L341.92,183.67 L342.53,184.70 L343.15,185.73 L343.76,186.76 L344.38,187.79 L344.99,188.82 L345.61,189.84 L346.23,190.87 L346.85,191.90 L347.46,192.93 L348.08,193.95 L348.70,194.98 L349.32,196.00 L349.94,197.03 L350.56,198.05 L351.18,199.07 L351.81,200.10 L352.43,201.12 L353.06,202.14 L353.68,203.16 L354.31,204.18 L354.93,205.20 L355.56,206.22 L356.19,207.24 L356.82,208.26 L357.46,209.27 L358.09,210.29 L358.73,211.30 L359.36,212.32 L360.00,213.33 L360.64,214.34 L361.28,215.35 L361.92,216.36 L362.57,217.37 L363.22,218.38 L363.86,219.39 L364.51,220.40 L365.17,221.40 L365.82,222.41 L366.48,223.41 L367.13,224.41 L367.79,225.41 L368.46,226.41 L369.12,227.41 L369.79,228.41 L370.45,229.40 L371.13,230.40 L371.80,231.39 L372.48,232.38 L373.15,233.37 L373.84,234.36 L374.52,235.35 L375.21,236.34 L375.89,237.32 L376.59,238.31 L377.28,239.29 L377.98,240.27 L378.68,241.25 L379.38,242.23 L380.09,243.21 L380.80,244.18 L381.51,245.15 L382.23,246.13 L382.95,247.10 L383.03,247.21" stroke="#00ffff" stroke-width="1.4"/>
<path d="M59.07,146.03 L60.20,145.60 L61.32,145.18 L62.44,144.75 L63.56,144.31 L64.68,143.88 L65.80,143.44 L66.92,143.00 L68.04,142.56 L69.15,142.12 L70.27,141.68 L71.39,141.23 L72.50,140.78 L73.62,140.34 L74.73,139.89 L75.85,139.43 L76.96,138.98 L78.07,138.53 L79.19,138.07 L80.30,137.61 L81.41,137.16 L82.52,136.70 L83.63,136.24 L84.74,135.78 L85.85,135.31 L86.96,134.85 L88.07,134.39 L89.18,133.92 L90.29,133.46 L91.40,132.99 L92.51,132.52 L93.61,132.06 L94.72,131.59 L95.83,131.12 L96.94,130.65 L98.04,130.18 L99.15,129.71 L100.26,129.24 L101.36,128.77 L102.47,128.30 L103.57,127.83 L104.68,127.36 L105.79,126.89 L106.89,126.42 L108.00,125.95 L109.10,125.48 L110.21,125.01 L111.31,124.54 L112.42,124.07 L113.52,123.60 L114.63,123.14 L115.73,122.67 L116.84,122.20 L117.95,121.73 L119.05,121.27 L120.16,120.80 L121.26,120.34 L122.37,119.88 L123.47,119.41 L124.58,118.95 L125.68,118.49 L126.79,118.03 L127.90,117.57 L129.00,117.11 L130.11,116.66 L131.22,116.20 L132.32,115.75 L133.43,115.30 L134.54,114.85 L135.65,114.40 L136.75,113.95 L137.86,113.50 L138.97,113.06 L140.08,112.62 L141.19,112.18 L142.30,111.74 L143.41,111.30 L144.52,110.87 L145.63,110.43 L146.74,110.00 L147.85,109.57 L148.97,109.14 L150.08,108.72 L151.19,108.29 L152.30,107.87 L153.42,107.44 L154.53,107.02 L155.65,106.60 L156.76,106.18 L157.88,105.76 L159.00,105.34 L160.11,104.92 L161.23,104.50 L162.35,104.08 L163.47,103.66 L164.59,103.24 L165.71,102.82 L166.83,102.40 L167.95,101.98 L169.07,101.56 L170.20,101.14 L171.32,100.72 L172.45,100.29 L173.57,99.87 L174.70,99.44 L175.82,99.02 L176.95,98.59 L178.08,98.16 L179.21,97.73 L180.34,97.30 L181.47,96.87 L182.60,96.45 L183.74,96.02 L184.87,95.59 L186.00,95.16 L187.14,94.74 L188.28,94.31 L189.41,93.89 L190.55,93.47 L191.69,93.05 L192.83,92.64 L193.97,92.23 L195.12,91.82 L196.26,91.41 L197.40,91.01 L198.55,90.61 L199.70,90.22 L200.84,89.83 L201.99,89.45 L203.14,89.07 L204.29,88.69 L205.45,88.32 L206.60,87.96 L207.75,87.60 L208.91,87.25 L210.07,86.91 L211.22,86.58 L212.38,86.25 L213.54,85.93 L214.70,85.62 L215.87,85.32 L217.03,85.02 L218.19,84.74 L219.36,84.47 L220.53,84.20 L221.69,83.95 L222.86,83.71 L224.03,83.48 L225.20,83.26 L226.37,83.05 L227.54,82.86 L228.71,82.68 L229.89,82.51 L231.06,82.36 L232.24,82.22 L233.41,82.10 L234.59,82.00 L235.77,81.92 L236.94,81.86 L238.12,81.82 L239.30,81.80 L240.48,81.80 L241.66,81.83 L242.85,81.88 L244.03,81.96 L245.21,82.06 L246.39,82.18 L247.58,82.33 L248.76,82.50 L249.94,82.70 L251.12,82.91 L252.30,83.14 L253.48,83.39 L254.65,83.66 L255.83,83.95 L257.00,84.25 L258.17,84.57 L259.33,84.91 L260.49,85.26 L261.65,85.63 L262.81,86.01 L263.96,86.40 L265.11,86.80 L266.26,87.21 L267.39,87.64 L268.53,88.07 L269.66,88.52 L270.78,88.97 L271.90,89.43 L273.01,89.89 L274.12,90.37 L275.22,90.84 L276.32,91.33 L277.42,91.82 L278.50,92.32 L279.59,92.82 L280.67,93.32 L281.75,93.83 L282.83,94.35 L283.90,94.87 L284.97,95.39 L286.04,95.91 L287.11,96.44 L288.17,96.97 L289.24,97.50 L290.30,98.04 L291.37,98.57 L292.43,99.11 L293.49,99.65 L294.56,100.19 L295.62,100.73 L296.69,101.27 L297.76,101.80 L298.82,102.34 L299.90,102.88 L300.97,103.41 L302.04,103.95 L303.12,104.48 L304.21,105.01 L305.29,105.54 L306.38,106.07 L307.47,106.59 L308.56,107.12 L309.65,107.65 L310.74,108.18 L311.83,108.71 L312.91,109.25 L313.99,109.79 L315.07,110.34 L316.14,110.90 L317.21,111.46 L318.27,112.04 L319.32,112.62 L320.37,113.22 L321.40,113.83 L322.43,114.45 L323.44,115.09 L324.44,115.74 L325.43,116.41 L326.41,117.09 L327.37,117.79 L328.32,118.52 L329.25,119.26 L330.16,120.02 L331.05,120.81 L331.93,121.61 L332.80,122.44 L333.65,123.28 L334.48,124.14 L335.30,125.01 L336.10,125.90 L336.90,126.81 L337.68,127.72 L338.45,128.65 L339.20,129.59 L339.95,130.53 L340.69,131.49 L341.42,132.45 L342.14,133.41 L342.86,134.38 L343.56,135.36 L344.26,136.33 L344.96,137.31 L345.64,138.29 L346.33,139.27 L347.01,140.25 L347.69,141.23 L348.36,142.21 L349.03,143.19 L349.71,144.17 L350.38,145.16 L351.04,146.14 L351.71,147.13 L352.39,148.12 L353.06,149.11 L353.73,150.10 L354.41,151.09 L355.09,152.08 L355.76,153.07 L356.44,154.07 L357.12,155.07 L357.80,156.07 L358.48,157.07 L359.15,158.07 L359.83,159.07 L360.50,160.08 L361.17,161.09 L361.84,162.09 L362.50,163.10 L363.16,164.12 L363.82,165.13 L364.47,166.15 L365.12,167.17 L365.76,168.19 L366.40,169.21 L367.03,170.24 L367.65,171.26 L368.27,172.29 L368.88,173.33 L369.49,174.36 L370.09,175.39 L370.68,176.43 L371.27,177.47 L371.86,178.51 L372.44,179.56 L373.01,180.61 L373.58,181.65 L374.15,182.70 L374.71,183.75 L375.27,184.81 L375.83,185.86 L376.38,186.92 L376.93,187.98 L377.47,189.04 L378.01,190.10 L378.55,191.17 L379.09,192.23 L379.63,193.30 L380.16,194.37 L380.69,195.44 L381.22,196.51 L381.75,197.59 L382.27,198.66 L382.80,199.74 L383.32,200.82 L383.85,201.90 L384.37,202.98 L384.89,204.06 L385.42,205.15 L385.94,206.23 L386.46,207.32 L386.98,208.41 L387.51,209.49 L388.03,210.58 L388.56,211.68 L389.09,212.77 L389.50,213.63" stroke="#000000" stroke-width="1.4"/>
</g>
<rect x="59.0" y="16.5" width="329.0" height="228.45" fill="none" stroke="#000" stroke-width="1"/>
<path d="M335.3,27.0 H371.8" stroke="#00ff00" stroke-width="1.5" fill="none"/>
<text x="327.7" y="31.70" text-anchor="end" font-size="10.8">p</text>
<path d="M335.3,40.87 H371.8" stroke="#ff00ff" stroke-width="1.5" fill="none"/>
<text x="327.7" y="45.40" text-anchor="end" font-size="10.8">He</text>
<path d="M335.3,54.75 H371.8" stroke="#0000ff" stroke-width="1.5" fill="none"/>
<text x="327.7" y="59.10" text-anchor="end" font-size="10.8">CNO</text>
<path d="M335.3,68.6 H371.8" stroke="#00ffff" stroke-width="1.5" fill="none"/>
<text x="327.7" y="72.90" text-anchor="end" font-size="10.8">MgAlSi</text>
<path d="M335.3,82.5 H371.8" stroke="#000000" stroke-width="1.5" fill="none"/>
<text x="327.7" y="86.60" text-anchor="end" font-size="10.8">Fe</text>
<text x="59.50" y="264.90" text-anchor="middle" font-size="14.0">10<tspan font-size="10.8" dy="-7.0">18</tspan></text>
<text x="192.10" y="264.90" text-anchor="middle" font-size="14.0">10<tspan font-size="10.8" dy="-7.0">19</tspan></text>
<text x="324.70" y="264.90" text-anchor="middle" font-size="14.0">10<tspan font-size="10.8" dy="-7.0">20</tspan></text>
<text x="50.80" y="251.25" text-anchor="end" font-size="14.0">10<tspan font-size="10.8" dy="-7.0">21</tspan></text>
<text x="50.80" y="194.14" text-anchor="end" font-size="14.0">10<tspan font-size="10.8" dy="-7.0">22</tspan></text>
<text x="50.80" y="137.03" text-anchor="end" font-size="14.0">10<tspan font-size="10.8" dy="-7.0">23</tspan></text>
<text x="50.80" y="79.91" text-anchor="end" font-size="14.0">10<tspan font-size="10.8" dy="-7.0">24</tspan></text>
<text x="50.80" y="22.80" text-anchor="end" font-size="14.0">10<tspan font-size="10.8" dy="-7.0">25</tspan></text>
<text x="223.8" y="284.5" text-anchor="middle" font-size="14.0">E (eV)</text>
<text transform="translate(16.6,130.8) rotate(-90)" text-anchor="middle" font-size="14.0">E<tspan font-size="10.8" dy="-7.0">3</tspan><tspan dy="7.0"> J(E) (eV</tspan><tspan font-size="10.8" dy="-7.0">2</tspan><tspan dy="7.0"> m</tspan><tspan font-size="10.8" dy="-7.0">-2</tspan><tspan dy="7.0"> s</tspan><tspan font-size="10.8" dy="-7.0">-1</tspan><tspan dy="7.0"> sr</tspan><tspan font-size="10.8" dy="-7.0">-1</tspan><tspan dy="7.0">)</tspan></text>
</svg>
</body></html>
